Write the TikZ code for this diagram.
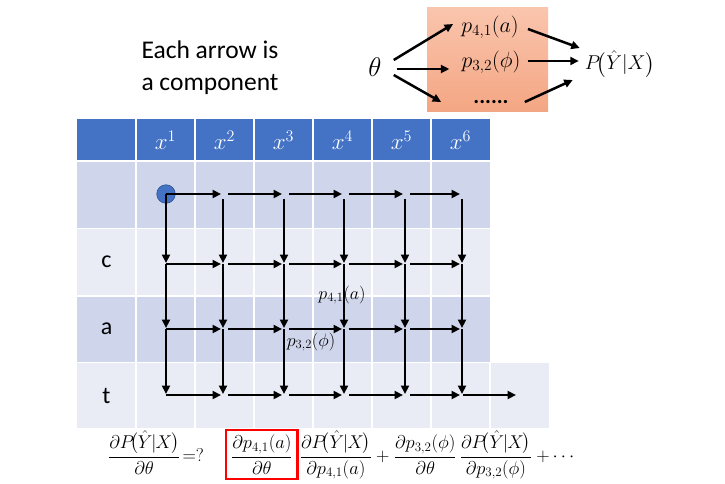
\documentclass[tikz,border=0pt]{standalone}
\usepackage{fix-cm}
\usepackage{amsmath}
\usepackage{fontspec}
\setmainfont{Carlito}
\usetikzlibrary{arrows.meta}
\definecolor{hdr}{HTML}{4472C4}
\definecolor{rowd}{HTML}{CFD5EA}
\definecolor{rowl}{HTML}{E9EBF5}
\definecolor{dotedge}{HTML}{2F528F}
\definecolor{salmtop}{HTML}{F9C5AD}
\definecolor{salmbot}{HTML}{F4A683}
\newcommand{\PYX}{P\!\bigl(\hat{Y}|X\bigr)}
\newcommand{\PYXt}{P\mkern-4mu\bigl(\hat{Y}\mkern-1mu|\mkern-1mu X\mkern-1mu\bigr)}
\begin{document}
\begin{tikzpicture}[x=1pt,y=-1pt,
  arr/.style={line width=2.5pt,-{Triangle[length=8.5pt,width=8pt]}},
  sep/.style={white,line width=1.2pt},
  mth/.style={font=\fontsize{22}{26}\selectfont,inner sep=0pt},
  glab/.style={font=\fontsize{18}{22}\selectfont,inner sep=0pt},
  hlab/.style={font=\fontsize{23}{26}\selectfont,text=white,inner sep=0pt},
  rlab/.style={font=\fontsize{24}{28}\selectfont,inner sep=0pt},
  eqn/.style={font=\fontsize{18.5}{24}\selectfont,inner sep=0pt,anchor=base west},
]
\useasboundingbox (0,0) rectangle (725,484);
\fill[white] (0,0) rectangle (725,484);
% caption
\node[font=\fontsize{25.5}{32}\selectfont,align=center,inner sep=0pt] (cap) at (210,68) {Each arrow is\\a component};
% salmon box
\node[top color=salmtop,bottom color=salmbot,minimum width=121pt,minimum height=104pt,inner sep=0pt] (box) at (487.5,60) {};
\node[inner sep=0pt,font=\fontsize{27}{30}\selectfont] (theta) at (375,67) {$\theta$};
\node[mth] (p41) at (490,27) {$p_{4,1}(a)$};
\node[mth] (p32) at (491,62) {$p_{3,2}(\phi)$};
\node[inner sep=0pt,font=\fontsize{22}{24}\selectfont\bfseries] (dots) at (491,102) {......};
\node[inner sep=0pt,font=\fontsize{20}{24}\selectfont] (P) at (620,64) {$\PYX$};
\draw[arr] ([xshift=12pt,yshift=7pt]theta.east) -- ([xshift=-8pt,yshift=3pt]p41.west);
\draw[arr] ([xshift=15pt,yshift=-2pt]theta.east) -- ([xshift=-12pt,yshift=-7pt]p32.west);
\draw[arr] ([xshift=12pt,yshift=-8pt]theta.east) -- ([xshift=-32pt]dots.west);
\draw[arr] ([xshift=9pt,yshift=-2pt]p41.east) -- ([xshift=-5pt,yshift=16pt]P.west);
\draw[arr] ([xshift=7pt,yshift=1pt]p32.east) -- ([xshift=-6pt,yshift=3pt]P.west);
\draw[arr] ([xshift=16pt]dots.east) -- ([xshift=-12pt,yshift=-16pt]P.west);
% table
\fill[hdr] (77,119) rectangle (490,160);
\fill[rowd] (77,162) rectangle (490,228.5);
\fill[rowl] (77,228.5) rectangle (490,296);
\fill[rowd] (77,296) rectangle (490,362.5);
\fill[rowl] (77,362.5) rectangle (549,428);
\foreach \x in {136,195,254,313,372,431}{\draw[sep] (\x,119) -- (\x,428);}
\draw[sep] (490,362.5) -- (490,428);
\draw[sep] (77,228.5) -- (490,228.5);
\draw[sep] (77,296) -- (490,296);
\draw[sep] (77,362.5) -- (549,362.5);
\foreach \x [count=\i] in {165.5,224.5,283.5,342.5,401.5,460.5}{\node[hlab] (h\i) at (\x,140) {$x^{\i}$};}
\node[rlab] (rc) at (106.5,262) {c};
\node[rlab] (ra) at (106.5,329) {a};
\node[rlab] (rt) at (106.5,396) {t};
% grid
\foreach \x [count=\i] in {166,223,284,344,405,462}{
  \foreach \y [count=\j] in {194,264,329,395}{\coordinate (g\i\j) at (\x,\y);}}
\coordinate (tend) at (516,395);
\node[circle,fill=hdr,draw=dotedge,line width=0.6pt,minimum size=18.5pt,inner sep=0pt] (start) at (g11) {};
\foreach \j in {1,...,4}{
  \draw[arr,shorten >=2pt] (g1\j) -- (g2\j);
  \foreach \i [evaluate=\i as \k using int(\i+1)] in {2,...,5}{
    \draw[arr,shorten >=2pt,shorten <=5pt] (g\i\j) -- (g\k\j);}}
\draw[arr,shorten <=1pt] (g64) -- (tend);
\foreach \j [evaluate=\j as \k using int(\j+1)] in {1,...,3}{
  \foreach \i in {1,...,6}{
    \ifnum\j=1 \ifnum\i>1
      \draw[arr,shorten >=1pt,shorten <=5pt] (g\i\j) -- (g\i\k);
    \else
      \draw[arr,shorten >=1pt] (g\i\j) -- (g\i\k);
    \fi\else
      \draw[arr,shorten >=1pt] (g\i\j) -- (g\i\k);
    \fi}}
\node[glab] (l41) at (342,295) {$p_{4,1}(a)$};
\node[glab] (l32) at (311,342) {$p_{3,2}(\phi)$};
% formula
\node[eqn] (lhs) at (108,461.5) {$\dfrac{\partial \PYXt}{\partial\theta}$};
\node[eqn] (eq) at ([xshift=2pt]lhs.base east) {$=?$};
\node[eqn,draw=red,line width=2.2pt,inner xsep=5pt,inner ysep=5pt] (f1) at ([xshift=21pt]eq.base east) {$\dfrac{\partial p_{4,1}(a)}{\partial\theta}$};
\node[eqn] (f2) at ([xshift=1pt]f1.base east) {$\dfrac{\partial \PYXt}{\partial p_{4,1}(a)}$};
\node[eqn] (pl) at ([xshift=4pt]f2.base east) {$+$};
\node[eqn] (f3) at ([xshift=4pt]pl.base east) {$\dfrac{\partial p_{3,2}(\phi)}{\partial\theta}$};
\node[eqn] (f4) at ([xshift=3pt]f3.base east) {$\dfrac{\partial \PYXt}{\partial p_{3,2}(\phi)}$};
\node[eqn] (tail) at ([xshift=4pt]f4.base east) {$+\cdots$};
\end{tikzpicture}
\end{document}
